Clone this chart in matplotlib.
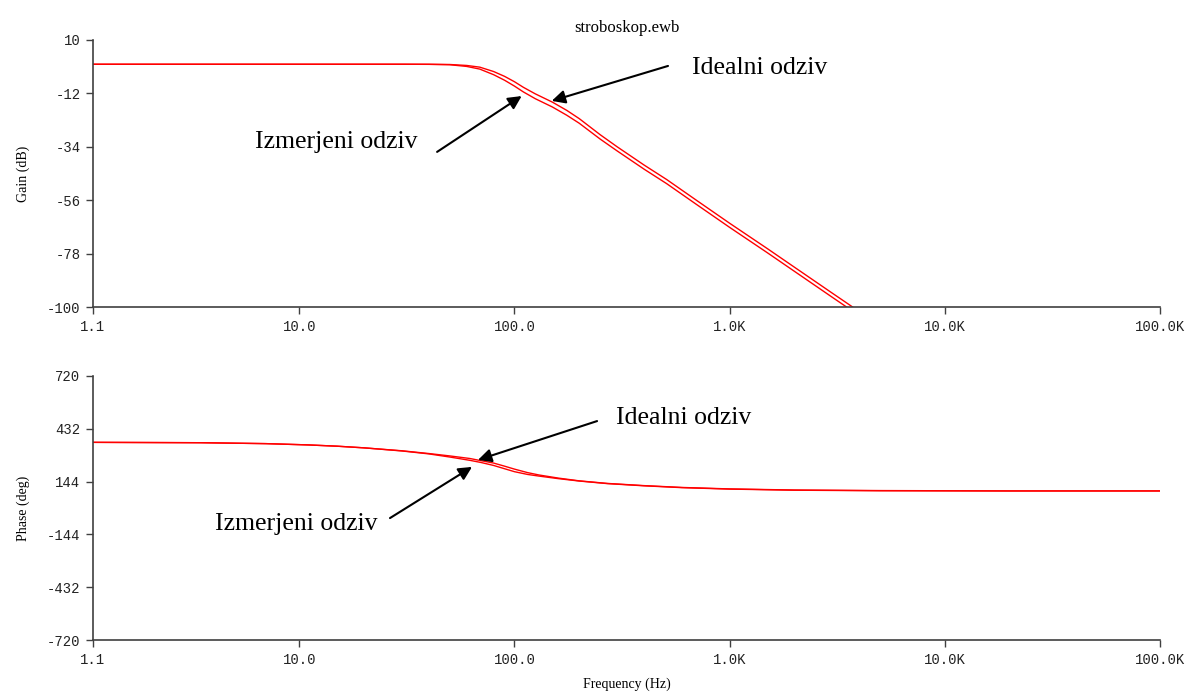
import numpy as np
import matplotlib
matplotlib.use('Agg')
import matplotlib.pyplot as plt

# gain (dB)
f_gain = [1.1, 10, 30, 40, 50, 60, 69, 80, 90, 100, 110, 125, 150, 175, 200, 250,
          300, 400, 510, 700, 1000, 1500, 2000, 3000, 3630, 5000]
gain_ideal = [0, 0, 0, -0.02, -0.1, -0.5, -1.2, -3.0, -5.0, -7.2, -9.5, -12.2, -15.6, -19.0, -22.4, -29.0,
              -34.0, -41.5, -47.5, -56.0, -65.5, -76.0, -83.6, -94.3, -99.3, -107.8]
gain_meas = [0, 0, 0, -0.04, -0.2, -0.9, -2.0, -4.3, -6.6, -9.0, -11.4, -14.2, -17.6, -21.0, -24.3, -30.8,
             -35.7, -43.2, -49.2, -57.7, -67.2, -77.7, -85.3, -96.0, -101.0, -109.5]

# phase (deg)
f_phase = [1.1, 3.5, 7, 11, 15, 20, 30, 40, 50, 62, 70, 80, 90, 100, 115, 130, 160, 200,
           270, 400, 600, 1000, 2000, 5000, 20000, 100000]
phase_ideal = [358, 356, 351, 344, 337, 328, 312, 297, 284, 270, 258, 245, 228, 212, 193, 180, 163, 148,
               134, 122, 112, 104, 98, 95, 93, 93]
phase_meas = [358, 356, 351, 344, 337, 328, 311, 295, 278, 260, 248, 232, 214, 198, 183, 174, 160, 147,
              133, 121, 111, 103, 97, 94, 93, 93]

xticks = [1.1, 10, 100, 1000, 10000, 100000]
xlabels = ['1.1', '10.0', '100.0', '1.0K', '10.0K', '100.0K']
gain_ticks = [10, -12, -34, -56, -78, -100]
phase_ticks = [720, 432, 144, -144, -432, -720]

serif = 'Liberation Serif'
mono = 'Liberation Mono'
axcol = '#404040'

fig = plt.figure(figsize=(11.92, 7), dpi=100)
ax1 = fig.add_axes([0.078, 0.5614, 0.8952, 0.3815])
ax2 = fig.add_axes([0.078, 0.0857, 0.8952, 0.3772])

def style(ax, yt):
    ax.set_xscale('log')
    ax.set_xlim(1.1, 100000)
    ax.set_ylim(yt[-1], yt[0])
    for s in ['top', 'right']:
        ax.spines[s].set_visible(False)
    for s in ['left', 'bottom']:
        ax.spines[s].set_color(axcol)
        ax.spines[s].set_linewidth(1.2)
    ax.set_xticks(xticks)
    ax.set_xticklabels(xlabels, fontfamily=mono, fontsize=10)
    ax.set_yticks(yt)
    ax.set_yticklabels([str(v) for v in yt], fontfamily=mono, fontsize=10)
    ax.minorticks_off()
    ax.tick_params(colors=axcol, labelcolor='#222222', length=5, width=1, pad=4)

style(ax1, gain_ticks)
style(ax2, phase_ticks)

ax1.plot(f_gain, gain_ideal, color='#ff0000', lw=1)
ax1.plot(f_gain, gain_meas, color='#ff0000', lw=1)
ax2.plot(f_phase, phase_ideal, color='#ff0000', lw=1)
ax2.plot(f_phase, phase_meas, color='#ff0000', lw=1)

ax1.set_title('stroboskop.ewb', fontfamily=serif, fontsize=12, pad=6)
ax1.set_ylabel('Gain (dB)', fontfamily=serif, fontsize=10, labelpad=12)
ax2.set_ylabel('Phase (deg)', fontfamily=serif, fontsize=10, labelpad=12)
ax2.set_xlabel('Frequency (Hz)', fontfamily=serif, fontsize=10, labelpad=8)

ap = dict(arrowstyle='-|>', color='black', lw=1.5, mutation_scale=20, shrinkA=0, shrinkB=0)
# top annotations
ax1.text(1383, -1.5, 'Idealni odziv', fontfamily=serif, fontsize=18.5, ha='center', va='center')
ax1.annotate('', xy=(149, -15.1), xytext=(517, -0.7), arrowprops=ap)
ax1.text(14.8, -32.0, 'Izmerjeni odziv', fontfamily=serif, fontsize=18.5, ha='center', va='center')
ax1.annotate('', xy=(108, -13.1), xytext=(43.7, -36.1), arrowprops=ap)
# bottom annotations
ax2.text(613, 491, 'Idealni odziv', fontfamily=serif, fontsize=18.5, ha='center', va='center')
ax2.annotate('', xy=(67.7, 262), xytext=(242, 474), arrowprops=ap)
ax2.text(9.66, -87, 'Izmerjeni odziv', fontfamily=serif, fontsize=18.5, ha='center', va='center')
ax2.annotate('', xy=(63.5, 224), xytext=(26.4, -55), arrowprops=ap)

fig.savefig('out.png', dpi=100, facecolor='white')
